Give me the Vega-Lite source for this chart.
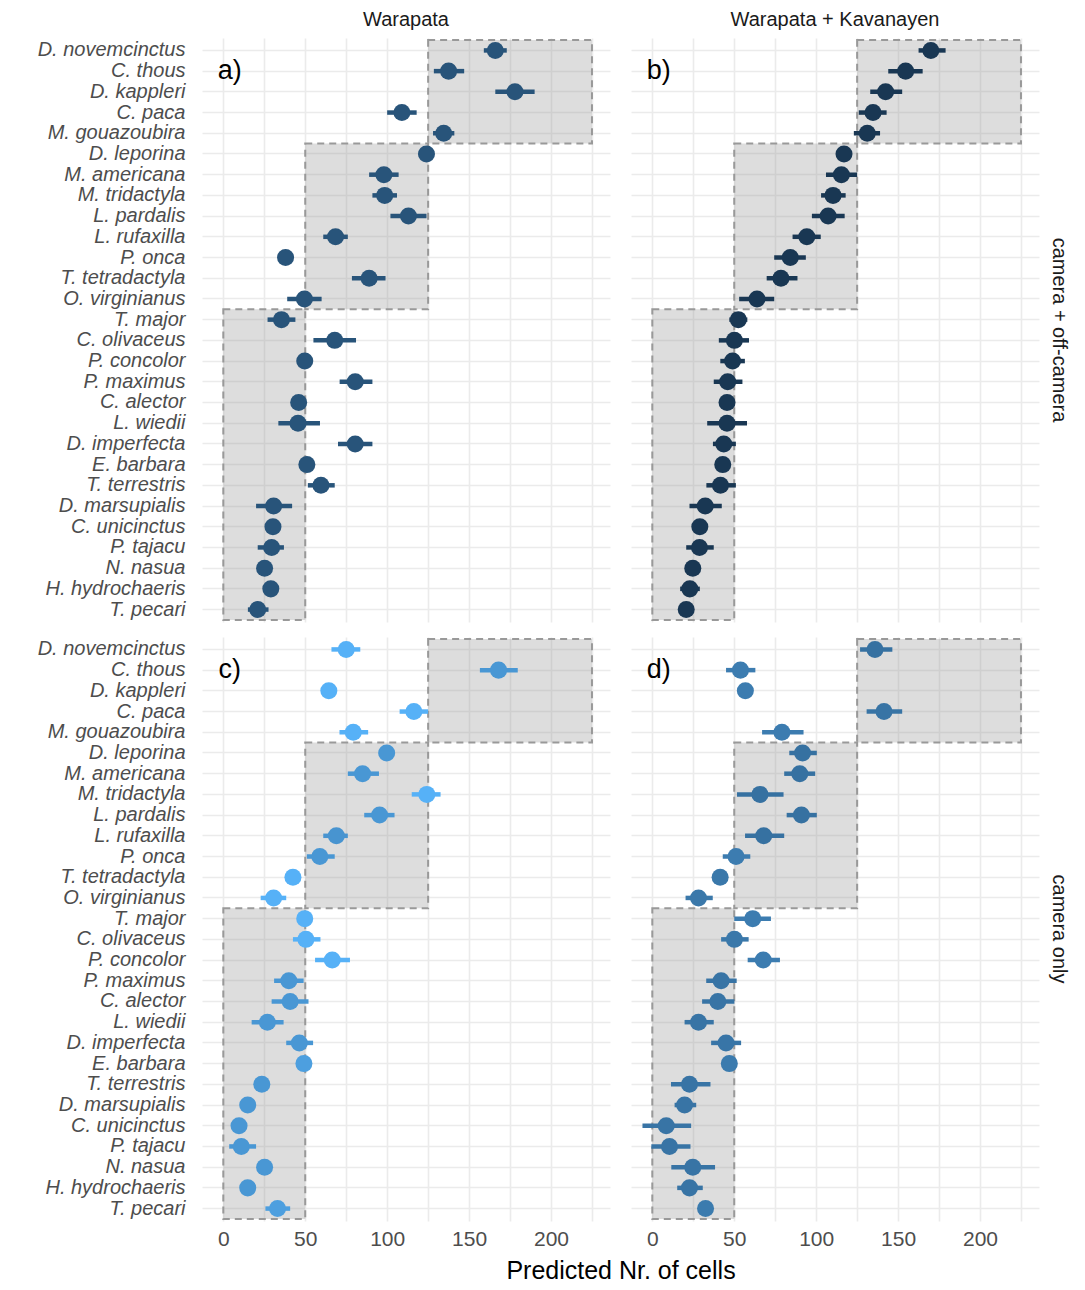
{
  "$schema": "https://vega.github.io/schema/vega-lite/v6.json",
  "padding": {"left": 37, "top": 10, "right": 5, "bottom": 2},
  "data": {"values": [
    {"k":"b","site":"Warapata","src":"camera + off-camera","sp":"D. novemcinctus","sp2":"M. gouazoubira","lo":125,"hi":225},
    {"k":"b","site":"Warapata","src":"camera + off-camera","sp":"D. leporina","sp2":"O. virginianus","lo":50,"hi":125},
    {"k":"b","site":"Warapata","src":"camera + off-camera","sp":"T. major","sp2":"T. pecari","lo":0,"hi":50},
    {"k":"b","site":"Warapata + Kavanayen","src":"camera + off-camera","sp":"D. novemcinctus","sp2":"M. gouazoubira","lo":125,"hi":225},
    {"k":"b","site":"Warapata + Kavanayen","src":"camera + off-camera","sp":"D. leporina","sp2":"O. virginianus","lo":50,"hi":125},
    {"k":"b","site":"Warapata + Kavanayen","src":"camera + off-camera","sp":"T. major","sp2":"T. pecari","lo":0,"hi":50},
    {"k":"b","site":"Warapata","src":"camera only","sp":"D. novemcinctus","sp2":"M. gouazoubira","lo":125,"hi":225},
    {"k":"b","site":"Warapata","src":"camera only","sp":"D. leporina","sp2":"O. virginianus","lo":50,"hi":125},
    {"k":"b","site":"Warapata","src":"camera only","sp":"T. major","sp2":"T. pecari","lo":0,"hi":50},
    {"k":"b","site":"Warapata + Kavanayen","src":"camera only","sp":"D. novemcinctus","sp2":"M. gouazoubira","lo":125,"hi":225},
    {"k":"b","site":"Warapata + Kavanayen","src":"camera only","sp":"D. leporina","sp2":"O. virginianus","lo":50,"hi":125},
    {"k":"b","site":"Warapata + Kavanayen","src":"camera only","sp":"T. major","sp2":"T. pecari","lo":0,"hi":50},
    {"k":"t","site":"Warapata","src":"camera + off-camera","sp":"C. thous","est":4,"lab":"a)"},
    {"k":"t","site":"Warapata + Kavanayen","src":"camera + off-camera","sp":"C. thous","est":4,"lab":"b)"},
    {"k":"t","site":"Warapata","src":"camera only","sp":"C. thous","est":4,"lab":"c)"},
    {"k":"t","site":"Warapata + Kavanayen","src":"camera only","sp":"C. thous","est":4,"lab":"d)"},

    {"k":"e","site":"Warapata","src":"camera + off-camera","sp":"D. novemcinctus","est":166,"lo":159,"hi":173,"c":0.33},
    {"k":"e","site":"Warapata","src":"camera + off-camera","sp":"C. thous","est":137.5,"lo":128.5,"hi":147,"c":0.33},
    {"k":"e","site":"Warapata","src":"camera + off-camera","sp":"D. kappleri","est":178,"lo":166,"hi":190,"c":0.33},
    {"k":"e","site":"Warapata","src":"camera + off-camera","sp":"C. paca","est":109,"lo":100,"hi":118,"c":0.33},
    {"k":"e","site":"Warapata","src":"camera + off-camera","sp":"M. gouazoubira","est":134.5,"lo":128,"hi":141,"c":0.33},
    {"k":"e","site":"Warapata","src":"camera + off-camera","sp":"D. leporina","est":124,"lo":121,"hi":127,"c":0.33},
    {"k":"e","site":"Warapata","src":"camera + off-camera","sp":"M. americana","est":98,"lo":89,"hi":107,"c":0.33},
    {"k":"e","site":"Warapata","src":"camera + off-camera","sp":"M. tridactyla","est":98.5,"lo":91,"hi":106,"c":0.33},
    {"k":"e","site":"Warapata","src":"camera + off-camera","sp":"L. pardalis","est":113,"lo":102,"hi":124,"c":0.33},
    {"k":"e","site":"Warapata","src":"camera + off-camera","sp":"L. rufaxilla","est":68.5,"lo":61,"hi":76,"c":0.33},
    {"k":"e","site":"Warapata","src":"camera + off-camera","sp":"P. onca","est":38,"lo":35,"hi":41,"c":0.33},
    {"k":"e","site":"Warapata","src":"camera + off-camera","sp":"T. tetradactyla","est":89,"lo":78.5,"hi":99,"c":0.33},
    {"k":"e","site":"Warapata","src":"camera + off-camera","sp":"O. virginianus","est":49.5,"lo":39,"hi":60,"c":0.33},
    {"k":"e","site":"Warapata","src":"camera + off-camera","sp":"T. major","est":35.5,"lo":27,"hi":44,"c":0.33},
    {"k":"e","site":"Warapata","src":"camera + off-camera","sp":"C. olivaceus","est":68,"lo":55,"hi":81,"c":0.33},
    {"k":"e","site":"Warapata","src":"camera + off-camera","sp":"P. concolor","est":49.7,"lo":47,"hi":52,"c":0.33},
    {"k":"e","site":"Warapata","src":"camera + off-camera","sp":"P. maximus","est":80.5,"lo":71,"hi":91,"c":0.33},
    {"k":"e","site":"Warapata","src":"camera + off-camera","sp":"C. alector","est":46,"lo":43,"hi":49,"c":0.33},
    {"k":"e","site":"Warapata","src":"camera + off-camera","sp":"L. wiedii","est":45.6,"lo":33.6,"hi":59,"c":0.33},
    {"k":"e","site":"Warapata","src":"camera + off-camera","sp":"D. imperfecta","est":80.5,"lo":70,"hi":91,"c":0.33},
    {"k":"e","site":"Warapata","src":"camera + off-camera","sp":"E. barbara","est":51,"lo":48,"hi":54,"c":0.33},
    {"k":"e","site":"Warapata","src":"camera + off-camera","sp":"T. terrestris","est":59.6,"lo":51.6,"hi":68,"c":0.33},
    {"k":"e","site":"Warapata","src":"camera + off-camera","sp":"D. marsupialis","est":30.7,"lo":20,"hi":42,"c":0.33},
    {"k":"e","site":"Warapata","src":"camera + off-camera","sp":"C. unicinctus","est":30.3,"lo":27,"hi":33,"c":0.33},
    {"k":"e","site":"Warapata","src":"camera + off-camera","sp":"P. tajacu","est":29.5,"lo":21,"hi":37,"c":0.33},
    {"k":"e","site":"Warapata","src":"camera + off-camera","sp":"N. nasua","est":25.2,"lo":22,"hi":28,"c":0.33},
    {"k":"e","site":"Warapata","src":"camera + off-camera","sp":"H. hydrochaeris","est":29,"lo":26,"hi":32,"c":0.33},
    {"k":"e","site":"Warapata","src":"camera + off-camera","sp":"T. pecari","est":21,"lo":15,"hi":27.6,"c":0.33},

    {"k":"e","site":"Warapata + Kavanayen","src":"camera + off-camera","sp":"D. novemcinctus","est":170,"lo":162.5,"hi":179,"c":0.1},
    {"k":"e","site":"Warapata + Kavanayen","src":"camera + off-camera","sp":"C. thous","est":154.6,"lo":144,"hi":165,"c":0.1},
    {"k":"e","site":"Warapata + Kavanayen","src":"camera + off-camera","sp":"D. kappleri","est":142.4,"lo":133,"hi":152.5,"c":0.1},
    {"k":"e","site":"Warapata + Kavanayen","src":"camera + off-camera","sp":"C. paca","est":134.7,"lo":126,"hi":143,"c":0.1},
    {"k":"e","site":"Warapata + Kavanayen","src":"camera + off-camera","sp":"M. gouazoubira","est":131.2,"lo":123,"hi":139,"c":0.1},
    {"k":"e","site":"Warapata + Kavanayen","src":"camera + off-camera","sp":"D. leporina","est":117,"lo":113,"hi":121,"c":0.1},
    {"k":"e","site":"Warapata + Kavanayen","src":"camera + off-camera","sp":"M. americana","est":115.4,"lo":106,"hi":125,"c":0.1},
    {"k":"e","site":"Warapata + Kavanayen","src":"camera + off-camera","sp":"M. tridactyla","est":110.3,"lo":103,"hi":118,"c":0.1},
    {"k":"e","site":"Warapata + Kavanayen","src":"camera + off-camera","sp":"L. pardalis","est":107.3,"lo":97.4,"hi":117.4,"c":0.1},
    {"k":"e","site":"Warapata + Kavanayen","src":"camera + off-camera","sp":"L. rufaxilla","est":94.3,"lo":85.6,"hi":102.8,"c":0.1},
    {"k":"e","site":"Warapata + Kavanayen","src":"camera + off-camera","sp":"P. onca","est":84.2,"lo":74.4,"hi":93.7,"c":0.1},
    {"k":"e","site":"Warapata + Kavanayen","src":"camera + off-camera","sp":"T. tetradactyla","est":78.5,"lo":69.8,"hi":88.6,"c":0.1},
    {"k":"e","site":"Warapata + Kavanayen","src":"camera + off-camera","sp":"O. virginianus","est":63.9,"lo":53,"hi":74.4,"c":0.1},
    {"k":"e","site":"Warapata + Kavanayen","src":"camera + off-camera","sp":"T. major","est":52.5,"lo":47,"hi":58,"c":0.1},
    {"k":"e","site":"Warapata + Kavanayen","src":"camera + off-camera","sp":"C. olivaceus","est":50.1,"lo":40.6,"hi":59,"c":0.1},
    {"k":"e","site":"Warapata + Kavanayen","src":"camera + off-camera","sp":"P. concolor","est":49,"lo":41.5,"hi":56.5,"c":0.1},
    {"k":"e","site":"Warapata + Kavanayen","src":"camera + off-camera","sp":"P. maximus","est":46,"lo":37.5,"hi":55,"c":0.1},
    {"k":"e","site":"Warapata + Kavanayen","src":"camera + off-camera","sp":"C. alector","est":45.6,"lo":42,"hi":49,"c":0.1},
    {"k":"e","site":"Warapata + Kavanayen","src":"camera + off-camera","sp":"L. wiedii","est":45.6,"lo":33.5,"hi":57.8,"c":0.1},
    {"k":"e","site":"Warapata + Kavanayen","src":"camera + off-camera","sp":"D. imperfecta","est":43.6,"lo":37,"hi":51,"c":0.1},
    {"k":"e","site":"Warapata + Kavanayen","src":"camera + off-camera","sp":"E. barbara","est":43,"lo":40,"hi":46,"c":0.1},
    {"k":"e","site":"Warapata + Kavanayen","src":"camera + off-camera","sp":"T. terrestris","est":41.6,"lo":33,"hi":51,"c":0.1},
    {"k":"e","site":"Warapata + Kavanayen","src":"camera + off-camera","sp":"D. marsupialis","est":32.3,"lo":22.7,"hi":42.4,"c":0.1},
    {"k":"e","site":"Warapata + Kavanayen","src":"camera + off-camera","sp":"C. unicinctus","est":29,"lo":26,"hi":32,"c":0.1},
    {"k":"e","site":"Warapata + Kavanayen","src":"camera + off-camera","sp":"P. tajacu","est":28.8,"lo":20.7,"hi":37.5,"c":0.1},
    {"k":"e","site":"Warapata + Kavanayen","src":"camera + off-camera","sp":"N. nasua","est":24.7,"lo":22,"hi":27.5,"c":0.1},
    {"k":"e","site":"Warapata + Kavanayen","src":"camera + off-camera","sp":"H. hydrochaeris","est":22.9,"lo":17,"hi":29,"c":0.1},
    {"k":"e","site":"Warapata + Kavanayen","src":"camera + off-camera","sp":"T. pecari","est":20.7,"lo":18,"hi":23.5,"c":0.1},

    {"k":"e","site":"Warapata","src":"camera only","sp":"D. novemcinctus","est":75,"lo":66,"hi":83.6,"c":1},
    {"k":"e","site":"Warapata","src":"camera only","sp":"C. thous","est":168,"lo":156.6,"hi":179.7,"c":0.82},
    {"k":"e","site":"Warapata","src":"camera only","sp":"D. kappleri","est":64.4,"lo":61,"hi":67.5,"c":1},
    {"k":"e","site":"Warapata","src":"camera only","sp":"C. paca","est":116.3,"lo":107.6,"hi":125,"c":1},
    {"k":"e","site":"Warapata","src":"camera only","sp":"M. gouazoubira","est":79.3,"lo":70.9,"hi":88.4,"c":1},
    {"k":"e","site":"Warapata","src":"camera only","sp":"D. leporina","est":99.7,"lo":96,"hi":103,"c":0.82},
    {"k":"e","site":"Warapata","src":"camera only","sp":"M. americana","est":85,"lo":76,"hi":95,"c":0.82},
    {"k":"e","site":"Warapata","src":"camera only","sp":"M. tridactyla","est":124.2,"lo":115,"hi":132.6,"c":1},
    {"k":"e","site":"Warapata","src":"camera only","sp":"L. pardalis","est":95.4,"lo":86,"hi":104.5,"c":0.82},
    {"k":"e","site":"Warapata","src":"camera only","sp":"L. rufaxilla","est":69,"lo":61,"hi":76,"c":0.8},
    {"k":"e","site":"Warapata","src":"camera only","sp":"P. onca","est":58.9,"lo":51,"hi":68,"c":0.82},
    {"k":"e","site":"Warapata","src":"camera only","sp":"T. tetradactyla","est":42.5,"lo":39.5,"hi":45.5,"c":1},
    {"k":"e","site":"Warapata","src":"camera only","sp":"O. virginianus","est":30.7,"lo":22.8,"hi":38.4,"c":1},
    {"k":"e","site":"Warapata","src":"camera only","sp":"T. major","est":49.7,"lo":46.5,"hi":53,"c":1},
    {"k":"e","site":"Warapata","src":"camera only","sp":"C. olivaceus","est":50.4,"lo":42.5,"hi":59.3,"c":1},
    {"k":"e","site":"Warapata","src":"camera only","sp":"P. concolor","est":66.5,"lo":56,"hi":77.3,"c":1},
    {"k":"e","site":"Warapata","src":"camera only","sp":"P. maximus","est":40,"lo":31,"hi":49,"c":0.82},
    {"k":"e","site":"Warapata","src":"camera only","sp":"C. alector","est":40.8,"lo":29.5,"hi":52,"c":0.82},
    {"k":"e","site":"Warapata","src":"camera only","sp":"L. wiedii","est":26.9,"lo":17.3,"hi":36.8,"c":0.82},
    {"k":"e","site":"Warapata","src":"camera only","sp":"D. imperfecta","est":46.4,"lo":38.4,"hi":54.8,"c":0.82},
    {"k":"e","site":"Warapata","src":"camera only","sp":"E. barbara","est":49.2,"lo":46,"hi":52.5,"c":0.88},
    {"k":"e","site":"Warapata","src":"camera only","sp":"T. terrestris","est":23.5,"lo":20.5,"hi":26.5,"c":0.82},
    {"k":"e","site":"Warapata","src":"camera only","sp":"D. marsupialis","est":14.9,"lo":12,"hi":18,"c":0.82},
    {"k":"e","site":"Warapata","src":"camera only","sp":"C. unicinctus","est":9.6,"lo":6.5,"hi":12.5,"c":0.82},
    {"k":"e","site":"Warapata","src":"camera only","sp":"P. tajacu","est":11,"lo":3.6,"hi":20,"c":0.82},
    {"k":"e","site":"Warapata","src":"camera only","sp":"N. nasua","est":25.2,"lo":22,"hi":28,"c":0.82},
    {"k":"e","site":"Warapata","src":"camera only","sp":"H. hydrochaeris","est":14.9,"lo":12,"hi":18,"c":0.82},
    {"k":"e","site":"Warapata","src":"camera only","sp":"T. pecari","est":33.1,"lo":25.7,"hi":40.8,"c":0.88},

    {"k":"e","site":"Warapata + Kavanayen","src":"camera only","sp":"D. novemcinctus","est":135.9,"lo":126.8,"hi":146.5,"c":0.55},
    {"k":"e","site":"Warapata + Kavanayen","src":"camera only","sp":"C. thous","est":53.8,"lo":45,"hi":62.9,"c":0.63},
    {"k":"e","site":"Warapata + Kavanayen","src":"camera only","sp":"D. kappleri","est":56.8,"lo":53.5,"hi":60,"c":0.63},
    {"k":"e","site":"Warapata + Kavanayen","src":"camera only","sp":"C. paca","est":141.4,"lo":130.8,"hi":152.5,"c":0.57},
    {"k":"e","site":"Warapata + Kavanayen","src":"camera only","sp":"M. gouazoubira","est":79.1,"lo":67,"hi":92.3,"c":0.63},
    {"k":"e","site":"Warapata + Kavanayen","src":"camera only","sp":"D. leporina","est":91.7,"lo":83.6,"hi":100.4,"c":0.55},
    {"k":"e","site":"Warapata + Kavanayen","src":"camera only","sp":"M. americana","est":90,"lo":80.5,"hi":99.4,"c":0.55},
    {"k":"e","site":"Warapata + Kavanayen","src":"camera only","sp":"M. tridactyla","est":65.7,"lo":51.7,"hi":80.1,"c":0.55},
    {"k":"e","site":"Warapata + Kavanayen","src":"camera only","sp":"L. pardalis","est":91,"lo":82,"hi":100.4,"c":0.55},
    {"k":"e","site":"Warapata + Kavanayen","src":"camera only","sp":"L. rufaxilla","est":68,"lo":56.6,"hi":80.5,"c":0.55},
    {"k":"e","site":"Warapata + Kavanayen","src":"camera only","sp":"P. onca","est":51.1,"lo":43,"hi":59.8,"c":0.63},
    {"k":"e","site":"Warapata + Kavanayen","src":"camera only","sp":"T. tetradactyla","est":41.4,"lo":38,"hi":44.5,"c":0.6},
    {"k":"e","site":"Warapata + Kavanayen","src":"camera only","sp":"O. virginianus","est":28.2,"lo":20.3,"hi":36.9,"c":0.6},
    {"k":"e","site":"Warapata + Kavanayen","src":"camera only","sp":"T. major","est":61.3,"lo":50,"hi":72.4,"c":0.63},
    {"k":"e","site":"Warapata + Kavanayen","src":"camera only","sp":"C. olivaceus","est":50.1,"lo":42,"hi":58.8,"c":0.6},
    {"k":"e","site":"Warapata + Kavanayen","src":"camera only","sp":"P. concolor","est":67.7,"lo":58.2,"hi":77.9,"c":0.63},
    {"k":"e","site":"Warapata + Kavanayen","src":"camera only","sp":"P. maximus","est":42,"lo":32.9,"hi":51.5,"c":0.57},
    {"k":"e","site":"Warapata + Kavanayen","src":"camera only","sp":"C. alector","est":40,"lo":30.4,"hi":50.1,"c":0.57},
    {"k":"e","site":"Warapata + Kavanayen","src":"camera only","sp":"L. wiedii","est":28.2,"lo":19.7,"hi":37.5,"c":0.57},
    {"k":"e","site":"Warapata + Kavanayen","src":"camera only","sp":"D. imperfecta","est":45,"lo":35.9,"hi":54.2,"c":0.58},
    {"k":"e","site":"Warapata + Kavanayen","src":"camera only","sp":"E. barbara","est":47,"lo":44,"hi":50,"c":0.62},
    {"k":"e","site":"Warapata + Kavanayen","src":"camera only","sp":"T. terrestris","est":22.7,"lo":11.4,"hi":35.5,"c":0.57},
    {"k":"e","site":"Warapata + Kavanayen","src":"camera only","sp":"D. marsupialis","est":19.7,"lo":13.6,"hi":26.8,"c":0.57},
    {"k":"e","site":"Warapata + Kavanayen","src":"camera only","sp":"C. unicinctus","est":8.5,"lo":-6,"hi":23.7,"c":0.57},
    {"k":"e","site":"Warapata + Kavanayen","src":"camera only","sp":"P. tajacu","est":10.5,"lo":-0.6,"hi":23.3,"c":0.57},
    {"k":"e","site":"Warapata + Kavanayen","src":"camera only","sp":"N. nasua","est":24.7,"lo":11.6,"hi":38.3,"c":0.57},
    {"k":"e","site":"Warapata + Kavanayen","src":"camera only","sp":"H. hydrochaeris","est":22.7,"lo":15.2,"hi":30.8,"c":0.57},
    {"k":"e","site":"Warapata + Kavanayen","src":"camera only","sp":"T. pecari","est":32.5,"lo":29,"hi":36,"c":0.62}
  ]},
  "facet": {
    "column": {"field": "site", "type": "nominal", "sort": ["Warapata", "Warapata + Kavanayen"], "title": "Predicted Nr. of cells",
      "header": {"labelOrient": "top", "titleOrient": "bottom", "labelFontSize": 20, "labelColor": "#1a1a1a", "labelPadding": 8,
        "titleFontSize": 25, "titleFontWeight": "normal", "titleColor": "#000000", "titlePadding": 0}},
    "row": {"field": "src", "type": "nominal", "sort": ["camera + off-camera", "camera only"], "title": null,
      "header": {"labelOrient": "right", "labelAngle": 90, "labelFontSize": 20, "labelColor": "#1a1a1a", "labelPadding": 10}}
  },
  "spacing": {"row": 15, "column": 21},
  "spec": {
    "width": 408,
    "height": 584,
    "layer": [
      {
        "transform": [{"filter": "datum.k === 'b'"}],
        "mark": {"type": "rect", "fill": "#999999", "fillOpacity": 0.33, "stroke": "#999999", "strokeWidth": 2, "strokeDash": [7, 5]},
        "encoding": {
          "y": {"field": "sp", "type": "nominal", "bandPosition": 0, "title": null,
            "scale": {"type": "band", "paddingInner": 0, "paddingOuter": 0.1, "domain": ["D. novemcinctus","C. thous","D. kappleri","C. paca","M. gouazoubira","D. leporina","M. americana","M. tridactyla","L. pardalis","L. rufaxilla","P. onca","T. tetradactyla","O. virginianus","T. major","C. olivaceus","P. concolor","P. maximus","C. alector","L. wiedii","D. imperfecta","E. barbara","T. terrestris","D. marsupialis","C. unicinctus","P. tajacu","N. nasua","H. hydrochaeris","T. pecari"]},
            "axis": {"grid": true, "zindex": 0, "bandPosition": 0.5, "labelFontStyle": "italic", "labelPadding": 17, "labelFontSize": 20}},
          "y2": {"field": "sp2", "bandPosition": 1},
          "x": {"field": "lo", "type": "quantitative", "title": null,
            "scale": {"domain": [-13, 236], "nice": false, "zero": false},
            "axis": {"zindex": 0, "values": [0,25,50,75,100,125,150,175,200,225], "labelExpr": "datum.value % 50 === 0 ? datum.label : ''", "labelFontSize": 21, "labelPadding": 7}},
          "x2": {"field": "hi"}
        }
      },
      {
        "transform": [{"filter": "datum.k === 'e'"}],
        "mark": {"type": "rule", "strokeWidth": 4.5},
        "encoding": {
          "y": {"field": "sp", "type": "nominal", "title": null},
          "x": {"field": "lo", "type": "quantitative", "title": null},
          "x2": {"field": "hi"},
          "color": {"field": "c", "type": "quantitative", "legend": null,
            "scale": {"domain": [0, 1], "range": ["#132B43", "#56B1F7"], "interpolate": "lab"}}
        }
      },
      {
        "transform": [{"filter": "datum.k === 'e'"}],
        "mark": {"type": "circle", "size": 290, "opacity": 1},
        "encoding": {
          "y": {"field": "sp", "type": "nominal", "title": null},
          "x": {"field": "est", "type": "quantitative", "title": null},
          "color": {"field": "c", "type": "quantitative", "legend": null}
        }
      },
      {
        "transform": [{"filter": "datum.k === 't'"}],
        "mark": {"type": "text", "fontSize": 27, "color": "#000000", "align": "center", "baseline": "middle"},
        "encoding": {
          "y": {"field": "sp", "type": "nominal", "title": null},
          "x": {"field": "est", "type": "quantitative", "title": null},
          "text": {"field": "lab"}
        }
      }
    ]
  },
  "config": {
    "font": "Liberation Sans",
    "view": {"stroke": null},
    "axis": {"domain": false, "ticks": false, "gridColor": "#ebebeb", "gridWidth": 1.6, "labelColor": "#4d4d4d"}
  }
}
